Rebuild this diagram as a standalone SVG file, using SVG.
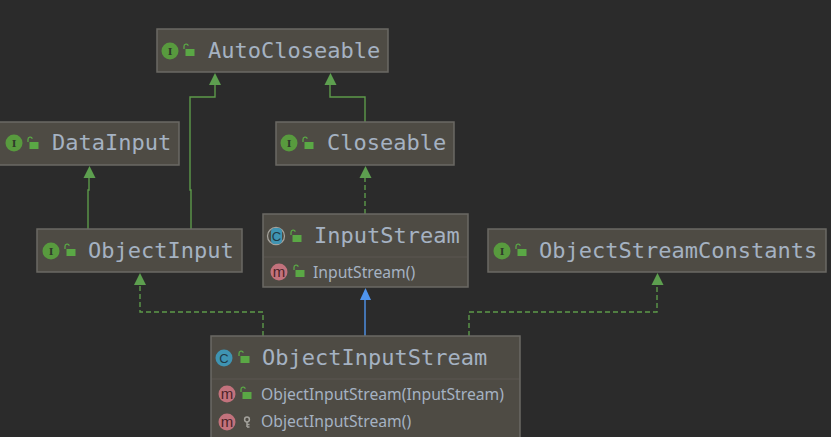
<svg xmlns="http://www.w3.org/2000/svg" width="831" height="437" viewBox="0 0 831 437">
<style>
.box{fill:#4e4b44;stroke:#6b6964;stroke-width:1.5}
.div{stroke:#5a5750;stroke-width:1}
.t{font-family:"DejaVu Sans Mono","Liberation Mono",monospace;font-size:22px;fill:#a5b2c2}
.m{font-family:"Noto Sans","Liberation Sans",sans-serif;font-size:15.7px;fill:#a5b2c2}
.ii{fill:#589a3e}
.ci{fill:#3f94b3}
.mi{fill:#c2727c}
.il{font-family:"DejaVu Serif",serif;font-size:10px;font-weight:bold;fill:#2f3a2a;text-anchor:middle}
.cl{font-family:"Liberation Sans",sans-serif;font-size:13px;fill:#1f3a46;text-anchor:middle}
.ml{font-family:"Liberation Sans",sans-serif;font-size:15px;fill:#4a2328;text-anchor:middle}
.lock{fill:#5aa845}
.sh{fill:none;stroke:#5aa845;stroke-width:1.3}
.e{fill:none;stroke:#5d9a4a;stroke-width:1.4}
.d{fill:none;stroke:#5d9a4a;stroke-width:1.4;stroke-dasharray:5 3}
.b{fill:none;stroke:#4f94ec;stroke-width:1.4}
.ah{fill:#5d9f4f}
.ab{fill:#4f94ec}
</style>
<defs>
<g id="lock"><path class="sh" d="M-4 -2v-2.500a2.200 2.200 0 0 1 4.300 -.8"/><rect class="lock" x="-2.500" y="-2" width="9" height="7"/></g>
<g id="key"><circle cx="0" cy="-2.500" r="2.400" fill="none" stroke="#a4a29c" stroke-width="1.500"/><path d="M0 0v5M0 2.500h2.500M0 5h2.500" fill="none" stroke="#a4a29c" stroke-width="1.500"/></g>
</defs>
<rect width="831" height="437" fill="#2b2b2b"/>
<g id="connectors">
<path class="e" d="M191 229V190H190V97H215V76"/>
<path class="e" d="M365 122V97H330V76"/>
<path class="e" d="M88 229V190H89V170"/>
<path class="d" d="M365 214V170"/>
<path class="d" d="M263 336V312H140V278"/>
<path class="b" d="M365 336V291"/>
<path class="d" d="M469 336V312H657V278"/>
<path class="ah" d="M215 73L221 85H209Z"/>
<path class="ah" d="M330.500 73L336.500 85H324.500Z"/>
<path class="ah" d="M89.500 166L95.500 178H83.500Z"/>
<path class="ah" d="M365.500 166L371.500 178H359.500Z"/>
<path class="ah" d="M140 273L146 285H134Z"/>
<path class="ab" d="M365.500 288L371 300H360Z"/>
<path class="ah" d="M657.500 273L663.500 285H651.500Z"/>
</g>
<g id="AutoCloseable">
<rect class="box" x="157" y="29" width="231" height="43"/>
<circle class="ii" cx="170" cy="51" r="8.500"/><text class="il" x="170" y="54.500">I</text>
<use href="#lock" x="188" y="51"/>
<text class="t" x="208" y="58">AutoCloseable</text>
</g>
<g id="Closeable">
<rect class="box" x="276" y="122" width="178" height="43"/>
<circle class="ii" cx="289" cy="143" r="8.500"/><text class="il" x="289" y="146.500">I</text>
<use href="#lock" x="307" y="144"/>
<text class="t" x="327" y="150">Closeable</text>
</g>
<g id="DataInput">
<rect class="box" x="-2" y="122" width="181" height="43"/>
<circle class="ii" cx="14" cy="143" r="8.500"/><text class="il" x="14" y="146.500">I</text>
<use href="#lock" x="32" y="144"/>
<text class="t" x="52" y="150">DataInput</text>
</g>
<g id="ObjectInput">
<rect class="box" x="37" y="229" width="205" height="43"/>
<circle class="ii" cx="51" cy="251" r="8.500"/><text class="il" x="51" y="254.500">I</text>
<use href="#lock" x="69" y="251"/>
<text class="t" x="88" y="258">ObjectInput</text>
</g>
<g id="InputStream">
<rect class="box" x="263" y="214" width="205" height="73"/>
<line class="div" x1="264" y1="257" x2="467" y2="257"/>
<circle cx="276" cy="236" r="8.500" fill="none" stroke="#a4a29c" stroke-width="1.300"/>
<rect class="ci" x="271" y="228" width="11" height="16" rx="4"/><text class="cl" x="276.500" y="240.500">C</text>
<use href="#lock" x="295" y="237"/>
<text class="t" x="314" y="243">InputStream</text>
<circle class="mi" cx="279" cy="272" r="8.500"/><text class="ml" x="279" y="276.500">m</text>
<use href="#lock" x="298" y="272"/>
<text class="m" x="313" y="277.500">InputStream()</text>
</g>
<g id="ObjectStreamConstants">
<rect class="box" x="488" y="229" width="338" height="43"/>
<circle class="ii" cx="502" cy="251" r="8.500"/><text class="il" x="502" y="254.500">I</text>
<use href="#lock" x="520" y="251"/>
<text class="t" x="539" y="258">ObjectStreamConstants</text>
</g>
<g id="ObjectInputStream">
<rect class="box" x="211" y="336" width="309" height="103"/>
<line class="div" x1="212" y1="379" x2="519" y2="379"/>
<circle class="ci" cx="224" cy="358" r="8.500"/><text class="cl" x="224" y="362.500">C</text>
<use href="#lock" x="243" y="358"/>
<text class="t" x="262" y="365">ObjectInputStream</text>
<circle class="mi" cx="227" cy="394" r="8.500"/><text class="ml" x="227" y="398.500">m</text>
<use href="#lock" x="245" y="394"/>
<text class="m" x="261" y="399.500">ObjectInputStream(InputStream)</text>
<circle class="mi" cx="227" cy="422" r="8.500"/><text class="ml" x="227" y="426.500">m</text>
<use href="#key" x="247" y="422"/>
<text class="m" x="261" y="427">ObjectInputStream()</text>
</g>
</svg>
